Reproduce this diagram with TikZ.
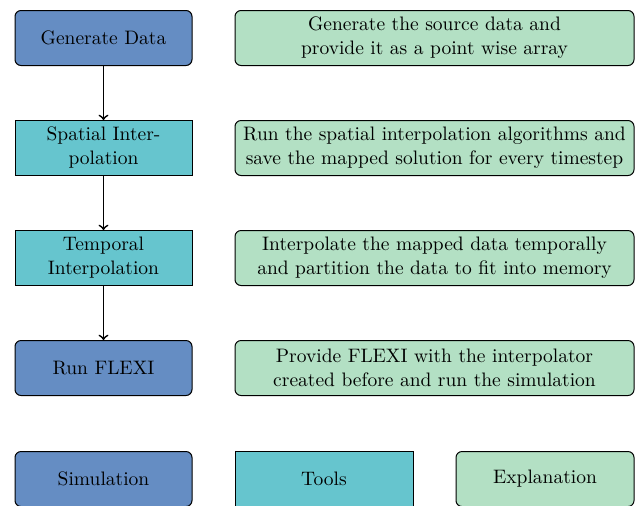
\documentclass[tikz,border=0pt]{standalone}
\usetikzlibrary{positioning}
\definecolor{simblue}{RGB}{101,141,195}
\definecolor{tooltea}{RGB}{102,197,206}
\definecolor{explgreen}{RGB}{179,224,196}
\begin{document}
\begin{tikzpicture}[x=0.5pt,y=-0.5pt,
  base/.style={draw=black, line width=0.5pt, align=center, inner sep=0pt, minimum height=27.5pt, font=\fontsize{9.75}{12}\selectfont},
  simbox/.style={base, fill=simblue, rounded corners=3pt, minimum width=88.5pt},
  toolbox/.style={base, fill=tooltea, minimum width=88.5pt},
  explbox/.style={base, fill=explgreen, rounded corners=3pt, minimum width=199.5pt},
  flow/.style={->, line width=0.85pt}]
\useasboundingbox (0,0) rectangle (635,505);
\node[simbox] (gen) at (103.5,38) {Generate Data};
\node[toolbox] (spat) at (103.5,148) {Spatial Inter-\\polation};
\node[toolbox] (temp) at (103.5,258) {Temporal\\Interpolation};
\node[simbox] (run) at (103.5,368) {Run FLEXI};
\node[explbox] (e1) at (434.5,38) {Generate the source data and\\provide it as a point wise array};
\node[explbox] (e2) at (434.5,148) {Run the spatial interpolation algorithms and\\save the mapped solution for every timestep};
\node[explbox] (e3) at (434.5,258) {Interpolate the mapped data temporally\\and partition the data to fit into memory};
\node[explbox] (e4) at (434.5,368) {Provide FLEXI with the interpolator\\created before and run the simulation};
\node[simbox] (lsim) at (103.5,479) {Simulation};
\node[toolbox, minimum width=89pt] (ltool) at (324,479) {Tools};
\node[explbox, minimum width=89pt] (lexpl) at (545,479) {Explanation};
\draw[flow] (gen) -- (spat);
\draw[flow] (spat) -- (temp);
\draw[flow] (temp) -- (run);
\end{tikzpicture}
\end{document}
